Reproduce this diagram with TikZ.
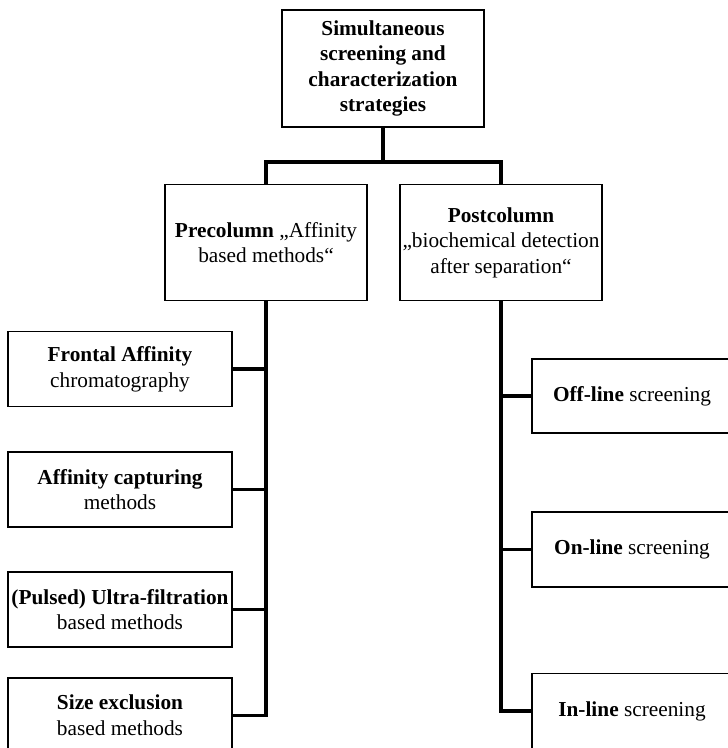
\documentclass[tikz,border=0pt]{standalone}
\usepackage{fontspec}
\setmainfont{Liberation Serif}
\tikzset{
    box/.style={draw, line width=1.2pt, align=center, inner sep=1.5pt, font=\fontsize{21.3}{25.6}\selectfont},
    link/.style={line width=3.5pt},
}
\begin{document}
\begin{tikzpicture}[x=1pt,y=-1pt]

    \useasboundingbox (0,0) rectangle (728,748);
    \clip (0,0) rectangle (728,748);

    \node[box, minimum width=202, minimum height=117] (top) at (383,68.5) {\textbf{Simultaneous}\\\textbf{screening and}\\\textbf{characterization}\\\textbf{strategies}};

    \node[box, minimum width=202, minimum height=116] (pre) at (266,242.5) {\textbf{Precolumn} „Affinity\\based methods“};
    \node[box, minimum width=202, minimum height=116] (post) at (501,242.5) {\textbf{Postcolumn}\\„biochemical detection\\after separation“};

    \node[box, minimum width=224, minimum height=75] (frontal) at (120,369) {\textbf{Frontal Affinity}\\chromatography};
    \node[box, minimum width=224, minimum height=75] (capture) at (120,489.5) {\textbf{Affinity capturing}\\methods};
    \node[box, minimum width=224, minimum height=75] (ultra) at (120,609.5) {\textbf{(Pulsed) Ultra-filtration}\\based methods};
    \node[box, minimum width=224, minimum height=75] (size) at (120,715.5) {\textbf{Size exclusion}\\based methods};

    \node[box, minimum width=200, minimum height=74] (offline) at (632,396) {\textbf{Off-line} screening};
    \node[box, minimum width=200, minimum height=75] (online) at (632,549.5) {\textbf{On-line} screening};
    \node[box, minimum width=200, minimum height=75] (inline) at (632,711) {\textbf{In-line} screening};

    \coordinate (bar) at (383,162);
    \draw[link] (top.south) -- (bar);
    \draw[link] (bar) -| (pre.north);
    \draw[link] (bar) -| (post.north);

    \draw[link] (pre.south) |- (size.east);
    \draw[link] (frontal.east) -- (frontal.east -| pre.south);
    \draw[link] (capture.east) -- (capture.east -| pre.south);
    \draw[link] (ultra.east) -- (ultra.east -| pre.south);

    \draw[link] (post.south) |- (inline.west);
    \draw[link] (offline.west) -- (offline.west -| post.south);
    \draw[link] (online.west) -- (online.west -| post.south);

\end{tikzpicture}
\end{document}
